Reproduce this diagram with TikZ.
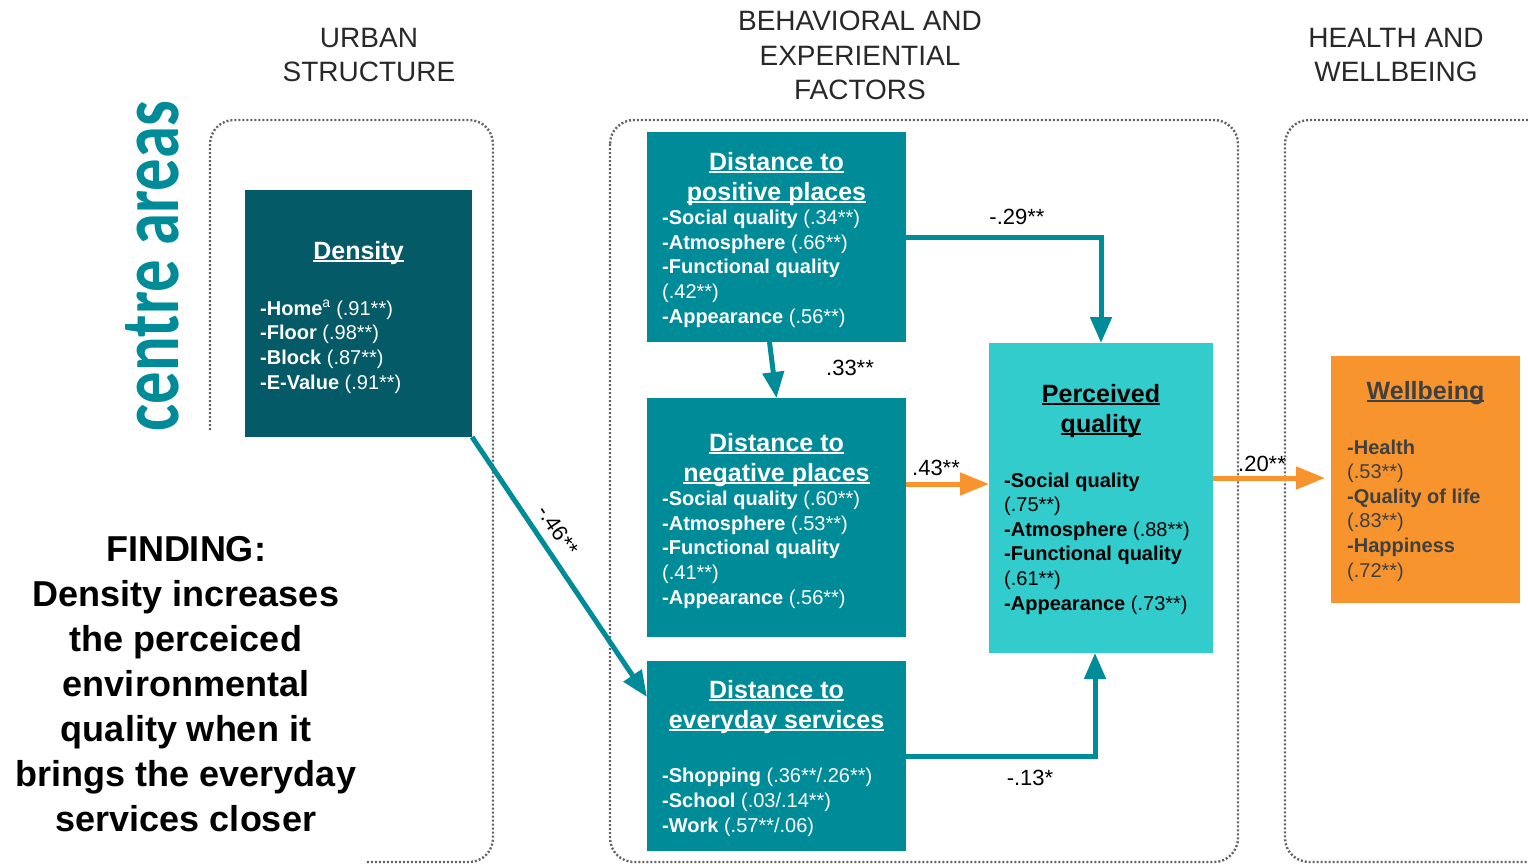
\documentclass[tikz,border=0pt]{standalone}
\usepackage{fontspec}
\setmainfont{Liberation Sans}
\newfontfamily\areafont{Carlito}
\usetikzlibrary{arrows.meta}
\definecolor{tealdark}{RGB}{4,90,102}
\definecolor{tealmid}{RGB}{0,139,153}
\definecolor{teallight}{RGB}{51,204,204}
\definecolor{orng}{RGB}{247,148,45}
\definecolor{framegray}{RGB}{100,100,100}
\definecolor{hdr}{RGB}{40,40,40}
\definecolor{wbtext}{RGB}{64,64,64}
% underline at a fixed depth below the baseline
\newcommand\ttl[1]{\setbox0\hbox{#1}\rlap{\rule[-3pt]{\wd0}{1.6pt}}\box0}
\begin{document}
\begin{tikzpicture}[x=1pt,y=-1pt,
  panel/.style={draw=none, inner sep=0pt, outer sep=0pt, anchor=north west},
  frm/.style={draw=framegray, line width=2.4pt, dash pattern=on 2pt off 2pt, rounded corners=24pt},
  hdrtext/.style={align=center, anchor=base, inner sep=0pt, text=hdr, font=\fontsize{28}{34.5}\selectfont},
  ttext/.style={align=center, anchor=base, inner sep=0pt, font=\fontsize{25}{30}\selectfont\bfseries},
  btext/.style={align=left, anchor=base west, inner sep=0pt, font=\fontsize{20}{24.6}\selectfont},
  coef/.style={anchor=base, inner sep=0pt, font=\fontsize{22}{26}\selectfont},
  tarrow/.style={draw=tealmid, line width=5pt, -{Triangle[length=26pt,width=21pt]}},
  oarrow/.style={draw=orng, line width=5pt, -{Triangle[length=29pt,width=22pt]}}
]
\useasboundingbox (0,0) rectangle (1528,864);

% column frames
\draw[frm] (210,430) -- (210,120) -- (493,120) -- (493,862) -- (365,862);
\draw[frm] (610,120) rectangle (1238,862);
\draw[frm] (1528,120) -- (1285,120) -- (1285,862) -- (1528,862);

% column headings (anchored at the baseline of the last line)
\node[hdrtext] (h1) at (369,82) {URBAN\\STRUCTURE};
\node[hdrtext] (h2) at (860,100) {BEHAVIORAL AND\\EXPERIENTIAL\\FACTORS};
\node[hdrtext] (h3) at (1396,82) {HEALTH AND\\WELLBEING};

% side label
\node[rotate=90, xscale=0.77, anchor=base, inner sep=0pt, text=tealmid,
      font=\areafont\bfseries\fontsize{84}{84}\selectfont] (area) at (178,266) {centre areas};

% finding
\node[align=center, anchor=base, inner sep=0pt, font=\fontsize{36}{45}\selectfont\bfseries] (find) at (186,831)
  {FINDING:\\Density increases\\the perceiced\\environmental\\quality when it\\brings the everyday\\services closer};

% boxes
\node[panel, fill=tealdark, minimum width=227pt, minimum height=247pt] (dens) at (245,190) {};
\node[panel, fill=tealmid, minimum width=259pt, minimum height=210pt] (pos) at (647,132) {};
\node[panel, fill=tealmid, minimum width=259pt, minimum height=239pt] (neg) at (647,398) {};
\node[panel, fill=tealmid, minimum width=259pt, minimum height=190pt] (every) at (647,661) {};
\node[panel, fill=teallight, minimum width=224pt, minimum height=310pt] (perc) at (989,343) {};
\node[panel, fill=orng, minimum width=189pt, minimum height=247pt] (wb) at (1331,356) {};

% density
\node[ttext, text=white] (densT) at (358.5,259) {\ttl{Density}};
\node[btext, text=white] (densB) at (260,389)
  {\textbf{-Home}\textsuperscript{a} (.91**)\\\textbf{-Floor} (.98**)\\\textbf{-Block} (.87**)\\\textbf{-E-Value} (.91**)};

% distance to positive places
\node[ttext, text=white] (posT) at (776.5,200) {\ttl{Distance to}\\\ttl{positive places}};
\node[btext, text=white] (posB) at (662,323)
  {\textbf{-Social quality} (.34**)\\\textbf{-Atmosphere} (.66**)\\\textbf{-Functional quality}\\(.42**)\\\textbf{-Appearance} (.56**)};

% distance to negative places
\node[ttext, text=white] (negT) at (776.5,481) {\ttl{Distance to}\\\ttl{negative places}};
\node[btext, text=white] (negB) at (662,604)
  {\textbf{-Social quality} (.60**)\\\textbf{-Atmosphere} (.53**)\\\textbf{-Functional quality}\\(.41**)\\\textbf{-Appearance} (.56**)};

% distance to everyday services
\node[ttext, text=white] (evT) at (776.5,728) {\ttl{Distance to}\\\ttl{everyday services}};
\node[btext, text=white] (evB) at (662,832)
  {\textbf{-Shopping} (.36**/.26**)\\\textbf{-School} (.03/.14**)\\\textbf{-Work} (.57**/.06)};

% perceived quality
\node[ttext, text=black] (percT) at (1101,432) {\ttl{Perceived}\\\ttl{quality}};
\node[btext, text=black] (percB) at (1004,610)
  {\textbf{-Social quality}\\(.75**)\\\textbf{-Atmosphere} (.88**)\\\textbf{-Functional quality}\\(.61**)\\\textbf{-Appearance} (.73**)};

% wellbeing
\node[ttext, text=wbtext] (wbT) at (1425.5,399) {\ttl{Wellbeing}};
\node[btext, text=wbtext] (wbB) at (1347,577)
  {\textbf{-Health}\\(.53**)\\\textbf{-Quality of life}\\(.83**)\\\textbf{-Happiness}\\(.72**)};

% paths
\coordinate (pin) at ([yshift=14pt]perc.west);
\coordinate (pout) at ([yshift=20pt]perc.east);
\coordinate (evin) at ([yshift=-36pt]every.north west);

\draw[tarrow] (pos.east) -| (perc.north);
\draw[tarrow] ([xshift=-7pt]pos.south) -- (neg.north);
\draw[oarrow] (neg.east |- pin) -- (pin);
\draw[oarrow, shorten >=6pt] (pout) -- (pout -| wb.west);
\draw[tarrow] (every.east) -| ([xshift=-6pt]perc.south);
\draw[tarrow] (dens.south east) -- (evin)
  node[pos=0.4, sloped, above=9pt, inner sep=0pt, font=\fontsize{22}{26}\selectfont] (l46) {-.46**};

% coefficients
\node[coef] (l29) at (1017,224) {-.29**};
\node[coef] (l33) at (850,375) {.33**};
\node[coef] (l43) at (936,475) {.43**};
\node[coef] (l20) at (1262,471) {.20**};
\node[coef] (l13) at (1030,785) {-.13*};
\end{tikzpicture}
\end{document}
